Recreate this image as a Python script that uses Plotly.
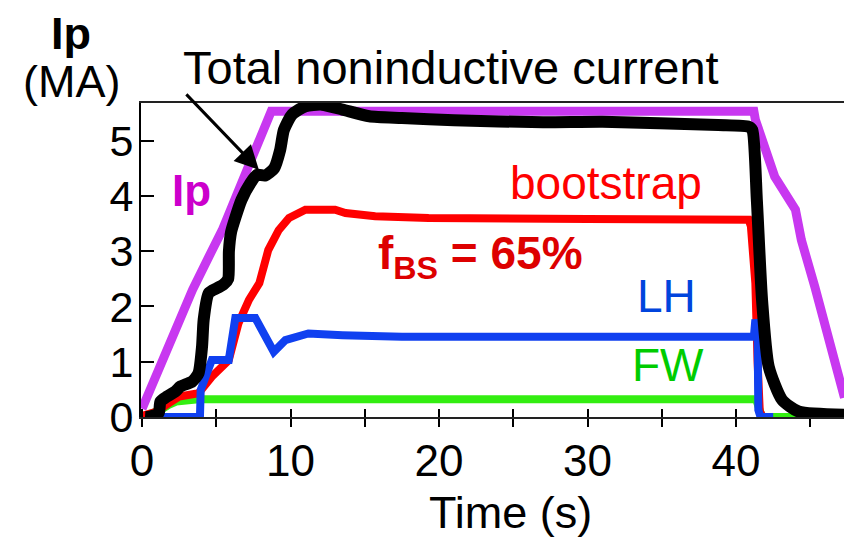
import plotly.graph_objects as go

# ---- data ----
ip_t = [0, 1.0, 2.0, 3.4, 4.5, 5.4, 6.5, 7.4, 8.1, 8.7, 12, 20, 30, 38, 41.2, 41.3, 41.75, 42.6, 44.0, 44.4, 45.3, 46.2, 47.1, 47.3]
ip_y = [0.15, 0.8, 1.45, 2.3, 2.9, 3.38, 4.1, 4.71, 5.2, 5.53, 5.53, 5.53, 5.53, 5.53, 5.53, 5.38, 5.01, 4.35, 3.75, 3.2, 2.36, 1.51, 0.55, 0.35]

bs_t = [0, 1.0, 1.8, 2.5, 3.8, 4.1, 4.7, 5.84, 6.5, 7.2, 7.9, 8.5, 9.2, 9.9, 11, 13, 13.7, 15.7, 19.3, 30, 40.85, 41.0, 41.3, 41.45, 41.6, 41.8]
bs_y = [0.02, 0.1, 0.25, 0.37, 0.43, 0.55, 0.73, 1.03, 1.7, 2.12, 2.42, 3.02, 3.38, 3.6, 3.75, 3.75, 3.69, 3.63, 3.6, 3.58, 3.57, 3.45, 2.42, 1.0, 0.1, 0.0]

lh_t = [0.5, 3.9, 3.95, 4.5, 4.7, 5.84, 6.28, 7.63, 8.87, 9.65, 11.2, 13.5, 17.5, 30, 40.85, 41.2, 41.3, 41.45, 41.5, 41.65, 42.5]
lh_y = [0.0, 0.0, 0.49, 0.97, 1.03, 1.03, 1.79, 1.79, 1.18, 1.39, 1.51, 1.48, 1.45, 1.45, 1.45, 1.45, 1.76, 1.6, 0.13, 0.0, 0.0]

fw_t = [0, 1.2, 1.8, 2.3, 3.8, 41.35, 41.5, 41.75, 47.3]
fw_y = [0.0, 0.12, 0.22, 0.28, 0.32, 0.32, 0.2, 0.0, 0.0]

tot_t = [0.2, 0.45, 1.12, 1.24, 1.68, 2.24, 2.58, 3.37, 3.8, 4.04, 4.15, 4.49, 5.05, 5.5, 5.8, 5.85, 6.0, 6.3, 6.7, 7.3, 7.75, 8.3, 8.9, 9.3, 9.55, 10.1, 11.0, 12.1, 13.5, 15.3, 17.5, 21, 27, 31, 38.8, 40.85, 41.1, 41.4, 41.75, 42.2, 43.1, 44.2, 47.3]
tot_y = [0.0, 0.0, 0.07, 0.28, 0.37, 0.46, 0.55, 0.64, 0.79, 1.27, 1.76, 2.24, 2.33, 2.4, 2.5, 3.0, 3.35, 3.62, 3.93, 4.23, 4.38, 4.37, 4.5, 4.83, 5.19, 5.47, 5.62, 5.65, 5.56, 5.44, 5.41, 5.37, 5.33, 5.34, 5.28, 5.25, 5.19, 3.93, 2.12, 0.91, 0.31, 0.1, 0.04]

tick_vals = [0, 5, 10, 15, 20, 25, 30, 35, 40, 45]
tick_text = ["0", "", "10", "", "20", "", "30", "", "40", ""]
y_tick_vals = [0, 1, 2, 3, 4, 5]

FONT = "Liberation Sans, Arial, Helvetica, sans-serif"
W, H = 844, 539
L, R, T, B = 141, 0, 103, 122


def px(x):
    return (x - L) / (W - L - R)


def py(y):
    return (H - B - y) / (H - T - B)


fig = go.Figure()
fig.add_trace(go.Scatter(x=ip_t, y=ip_y, mode="lines", line=dict(color="#C838F0", width=9), hoverinfo="skip"))
fig.add_trace(go.Scatter(x=fw_t, y=fw_y, mode="lines", line=dict(color="#33EE11", width=8), hoverinfo="skip"))
fig.add_trace(go.Scatter(x=bs_t, y=bs_y, mode="lines", line=dict(color="#FF0000", width=8), hoverinfo="skip"))
fig.add_trace(go.Scatter(x=lh_t, y=lh_y, mode="lines", line=dict(color="#1040F0", width=8), hoverinfo="skip"))
fig.add_trace(go.Scatter(x=tot_t, y=tot_y, mode="lines", line=dict(color="#000000", width=12, shape="spline", smoothing=0.6), hoverinfo="skip"))
# invisible trace to activate overlay axis (for crossing ticks)
fig.add_trace(go.Scatter(x=[tick_vals[0]], y=[0], xaxis="x2", mode="markers", marker=dict(opacity=0), hoverinfo="skip"))

xr = [-0.07, 47.27]
fig.update_layout(
    width=W, height=H,
    margin=dict(l=L, r=R, t=T, b=B),
    paper_bgcolor="white", plot_bgcolor="white",
    showlegend=False,
    font=dict(family=FONT, color="black"),
    xaxis=dict(range=xr, showgrid=False, zeroline=False, showline=True, linecolor="#222", linewidth=2,
               mirror=True, ticks="outside", ticklen=8, tickwidth=2, tickcolor="black",
               tickvals=tick_vals, ticktext=tick_text, tickfont=dict(size=44, family=FONT),
               ticklabelstandoff=-4),
    xaxis2=dict(range=xr, overlaying="x", showgrid=False, zeroline=False, showline=False,
                ticks="inside", ticklen=8, tickwidth=2, tickcolor="black",
                tickvals=tick_vals, showticklabels=False, side="bottom"),
    yaxis=dict(range=[0, 5.68], showgrid=False, zeroline=False, showline=True, linecolor="black", linewidth=2,
               ticks="inside", ticklen=13, tickwidth=2, tickcolor="black",
               tickvals=y_tick_vals, tickfont=dict(size=43, family=FONT), ticklabelstandoff=-3),
)

ann = [
    dict(text="<b>Ip</b>", x=px(71), y=py(33), size=45, color="black"),
    dict(text="(MA)", x=px(71), y=py(82), size=45, color="black"),
    dict(text="Total noninductive current", x=px(451), y=py(68), size=47, color="black"),
    dict(text="Time (s)", x=px(510), y=py(512), size=45, color="black"),
    dict(text="<b>Ip</b>", x=px(191), y=py(190), size=44, color="#CC00CC"),
    dict(text="bootstrap", x=px(606), y=py(183), size=46, color="#FF0000"),
    dict(text="<b>f<sub>BS</sub> = 65%</b>", x=px(480), y=py(256), size=46, color="#DD0000"),
    dict(text="LH", x=px(666), y=py(296), size=46, color="#0044DD"),
    dict(text="FW", x=px(668), y=py(365), size=46, color="#00CC00"),
]
for a in ann:
    fig.add_annotation(text=a["text"], x=a["x"], y=a["y"], xref="paper", yref="paper",
                       xanchor="center", yanchor="middle", showarrow=False,
                       font=dict(size=a["size"], color=a["color"], family=FONT))

# arrow from title to the total current curve
fig.add_annotation(x=7.87, y=4.47, xref="x", yref="y", ax=-74, ay=-77, axref="pixel", ayref="pixel",
                   text="", showarrow=True, arrowhead=2, arrowsize=1.6, arrowwidth=3, arrowcolor="black")

fig.write_html("out.html", config={"displayModeBar": False},
               post_script="document.body.style.margin='0';")
